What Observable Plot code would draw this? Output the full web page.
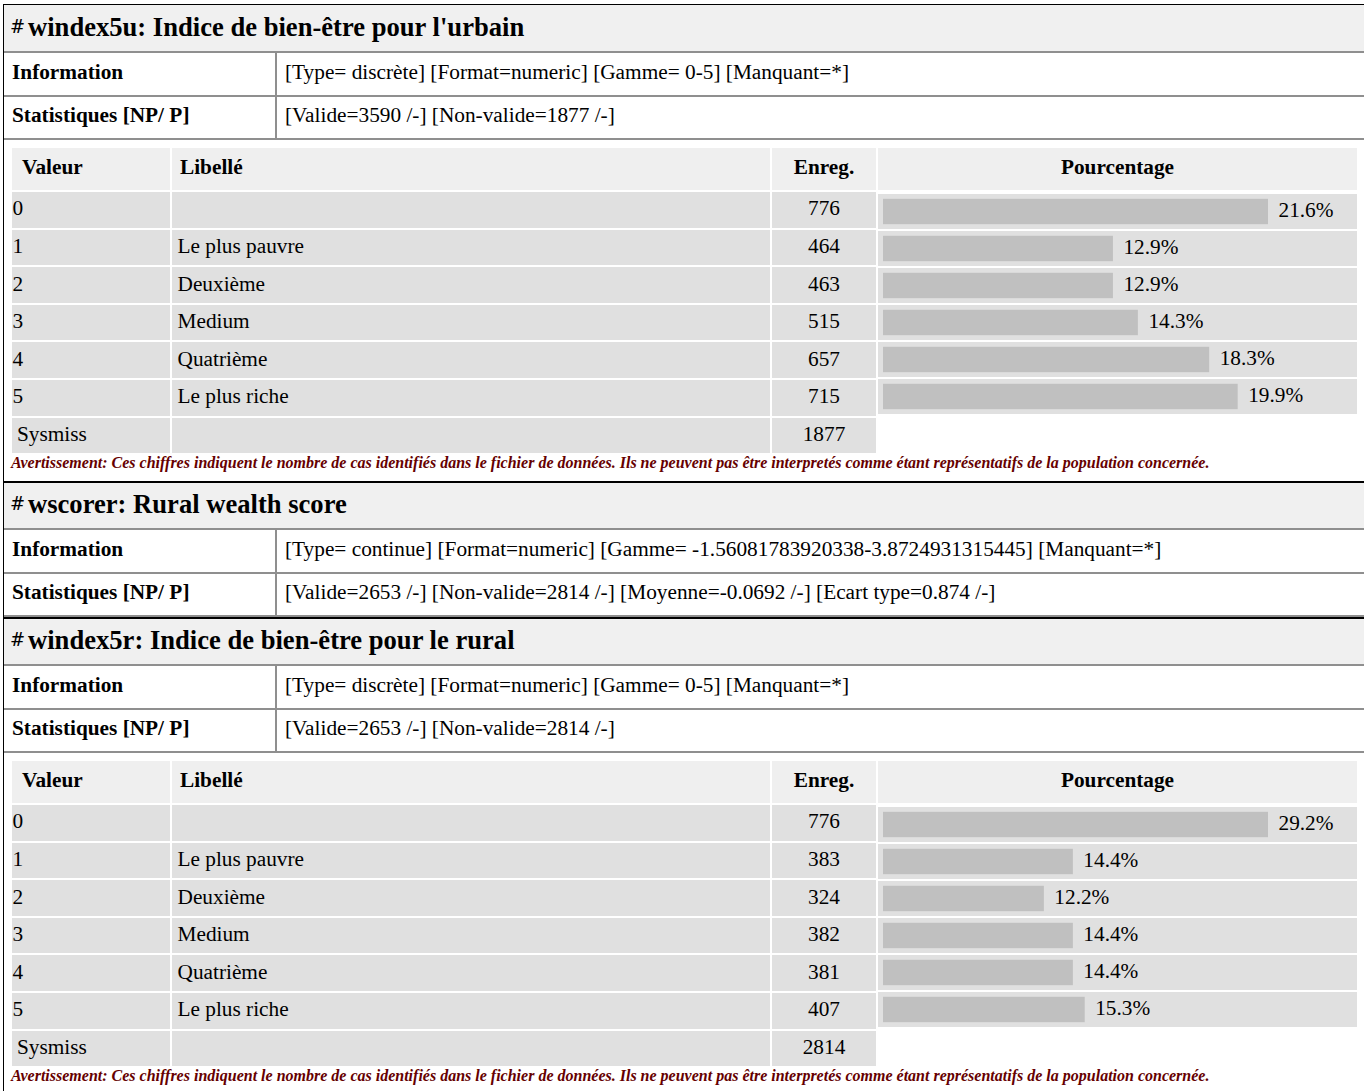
<!DOCTYPE html>
<html><head><meta charset="utf-8">
<script src="https://cdn.jsdelivr.net/npm/d3@7"></script>
<script src="https://cdn.jsdelivr.net/npm/@observablehq/plot@0.6"></script>
<style>
html,body{margin:0;padding:0;background:#fff;overflow:hidden}
#page{position:relative;width:1364px;height:1091px;overflow:hidden;font-family:"Liberation Serif","Times New Roman",serif;color:#000}
.abs{position:absolute;white-space:nowrap}
</style></head>
<body><div id="page"></div>
<script>
// ---- data ----
const varIds = ["windex5u", "wscorer", "windex5r"];
const varLabels = ["Indice de bien-être pour l'urbain", "Rural wealth score", "Indice de bien-être pour le rural"];
const infoTexts = [
  "[Type= discrète] [Format=numeric] [Gamme= 0-5] [Manquant=*]",
  "[Type= continue] [Format=numeric] [Gamme= -1.56081783920338-3.8724931315445] [Manquant=*]",
  "[Type= discrète] [Format=numeric] [Gamme= 0-5] [Manquant=*]"
];
const statsTexts = [
  "[Valide=3590 /-] [Non-valide=1877 /-]",
  "[Valide=2653 /-] [Non-valide=2814 /-] [Moyenne=-0.0692 /-] [Ecart type=0.874 /-]",
  "[Valide=2653 /-] [Non-valide=2814 /-]"
];
const rowHeads = ["Information", "Statistiques [NP/ P]"];
const colHeads = ["Valeur", "Libellé", "Enreg.", "Pourcentage"];
const freqValues = ["0", "1", "2", "3", "4", "5"];
const freqLabels = ["", "Le plus pauvre", "Deuxième", "Medium", "Quatrième", "Le plus riche"];
const urbanCounts = [776, 464, 463, 515, 657, 715];
const urbanPct = [21.6, 12.9, 12.9, 14.3, 18.3, 19.9];
const urbanMissing = 1877;
const ruralCounts = [776, 383, 324, 382, 381, 407];
const ruralPct = [29.2, 14.4, 12.2, 14.4, 14.4, 15.3];
const ruralMissing = 2814;
const missingLabel = "Sysmiss";
const warningText = "Avertissement: Ces chiffres indiquent le nombre de cas identifiés dans le fichier de données. Ils ne peuvent pas être interpretés comme étant représentatifs de la population concernée.";

// ---- layout helpers ----
const PAGE = document.getElementById("page");
const FONT = "'Liberation Serif','Times New Roman',serif";
const FS = 21.3;
function box(x, y, w, h, bg) {
  const d = document.createElement("div");
  d.className = "abs";
  Object.assign(d.style, {left: x + "px", top: y + "px", width: w + "px", height: h + "px", background: bg});
  PAGE.appendChild(d);
  return d;
}
function txt(x, baseline, s, fs, o = {}) {
  const d = document.createElement("div");
  d.className = "abs";
  d.textContent = s;
  Object.assign(d.style, {
    left: x + "px", top: (baseline - 0.8375 * fs) + "px", fontSize: fs + "px", lineHeight: fs + "px",
    fontWeight: o.bold ? "bold" : "normal", fontStyle: o.italic ? "italic" : "normal", color: o.color || "#000"
  });
  if (o.family) d.style.fontFamily = o.family;
  if (o.center) d.style.transform = "translateX(-50%)";
  PAGE.appendChild(d);
  return d;
}

const GRAY = "#8f8f8f";
function drawSection(i, top, thick) {
  box(3, top, 1400, thick, "#000");
  box(4, top + thick, 1400, 48 - thick, "#f0f0f0");
  txt(10, top + 29.5, "#", 18, {family: "'DejaVu Serif',serif"});
  txt(28, top + 32, varIds[i] + ": " + varLabels[i], 26.6, {bold: true});
  box(4, top + 47, 1400, 2, GRAY);
  box(4, top + 91, 1400, 2, GRAY);
  box(4, top + 134, 1400, 2, GRAY);
  box(275, top + 48, 2, 87, GRAY);
  txt(12, top + 76, rowHeads[0], FS, {bold: true});
  txt(285, top + 76, infoTexts[i], FS);
  txt(12, top + 119, rowHeads[1], FS, {bold: true});
  txt(285, top + 119, statsTexts[i], FS);
}

const COLS = [[12, 158], [172, 598], [772, 104], [878, 479]];
const PITCH = 37.6, ROWH = 35.6;
function drawFreq(top, counts, pct, missing) {
  const tTop = top + 144;
  COLS.forEach(([x, w]) => box(x, tTop, w, 42, "#efefef"));
  txt(22, tTop + 27, colHeads[0], FS, {bold: true});
  txt(180, tTop + 27, colHeads[1], FS, {bold: true});
  txt(824, tTop + 27, colHeads[2], FS, {bold: true, center: true});
  txt(1117.5, tTop + 27, colHeads[3], FS, {bold: true, center: true});
  const rTop = tTop + 44;
  const allVals = freqValues.concat([missingLabel]);
  const allLabels = freqLabels.concat([""]);
  const allCounts = counts.concat([missing]);
  allVals.forEach((v, r) => {
    const y = rTop + r * PITCH;
    COLS.slice(0, 3).forEach(([x, w]) => box(x, y, w, ROWH, "#e0e0e0"));
    txt(r === 6 ? 17 : 12.5, y + 24.3, v, FS);
    txt(177.5, y + 24.3, allLabels[r], FS);
    txt(824, y + 24.3, String(allCounts[r]), FS, {center: true});
  });
  // percentage bars drawn with Plot
  const rows = freqValues.map((v, k) => ({value: v, pct: pct[k]}));
  const chart = Plot.plot({
    width: 479, height: 6 * PITCH, margin: 0,
    x: {axis: null, domain: [0, d3.max(pct)], range: [5, 390]},
    y: {axis: null, domain: freqValues, padding: 0},
    style: {fontFamily: FONT, fontSize: FS + "px", background: "transparent", overflow: "visible", color: "#000", display: "block"},
    marks: [
      Plot.cell(rows, {y: "value", fill: "#e0e0e0", insetBottom: 2}),
      Plot.barX(rows, {x: "pct", y: "value", fill: "#c0c0c0", insetTop: 4.8, insetBottom: 6.8}),
      Plot.text(rows, {x: "pct", y: "value", text: d => d.pct.toFixed(1) + "%", dx: 10, dy: -3.3,
        textAnchor: "start", fontSize: FS, fontFamily: FONT, fill: "#000"})
    ]
  });
  const holder = document.createElement("div");
  holder.className = "abs";
  Object.assign(holder.style, {left: COLS[3][0] + "px", top: rTop + "px", width: "479px"});
  holder.appendChild(chart);
  PAGE.appendChild(holder);
  txt(11, rTop + 276, warningText, 16, {bold: true, italic: true, color: "#660000"});
}

box(3, 4, 1, 1100, "#000");
drawSection(0, 4, 1);
drawFreq(4, urbanCounts, urbanPct, urbanMissing);
drawSection(1, 481, 2);
drawSection(2, 617, 2);
drawFreq(617, ruralCounts, ruralPct, ruralMissing);
</script>
</body></html>
